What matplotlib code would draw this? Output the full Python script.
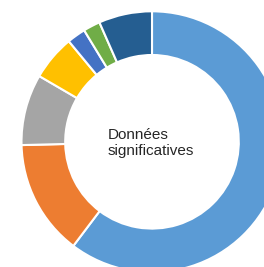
import matplotlib
matplotlib.use("Agg")
import matplotlib.pyplot as plt

# ----------------------------
# Data (share of each slice, clockwise from 12 o'clock)
# ----------------------------
values = [60.3, 14.3, 8.8, 5.6, 2.3, 2.1, 6.6]
colors = ["#5B9BD5", "#ED7D31", "#A5A5A5", "#FFC000", "#4472C4", "#70AD47", "#255E91"]
center_label = "Données\nsignificatives"

# ----------------------------
# Figure (pixel-like coordinates, chart is cropped right/bottom)
# ----------------------------
fig = plt.figure(figsize=(2.64, 2.67), dpi=100)
ax = fig.add_axes([0, 0, 1, 1])

cx, cy = 152, 125.2
r_out = 130.5
r_in = 86.8

ax.pie(values, colors=colors, startangle=90, counterclock=False,
       center=(cx, cy), radius=r_out, frame=True,
       wedgeprops=dict(width=r_out - r_in, edgecolor="white", linewidth=1.5))
ax.set_xlim(0, 264)
ax.set_ylim(0, 267)
ax.set_aspect("equal")
ax.axis("off")

ax.text(108, 124, center_label, ha="left", va="center",
        fontsize=11, family="Liberation Sans", color="#262626",
        linespacing=1.1)

fig.savefig("out.png", dpi=100)
